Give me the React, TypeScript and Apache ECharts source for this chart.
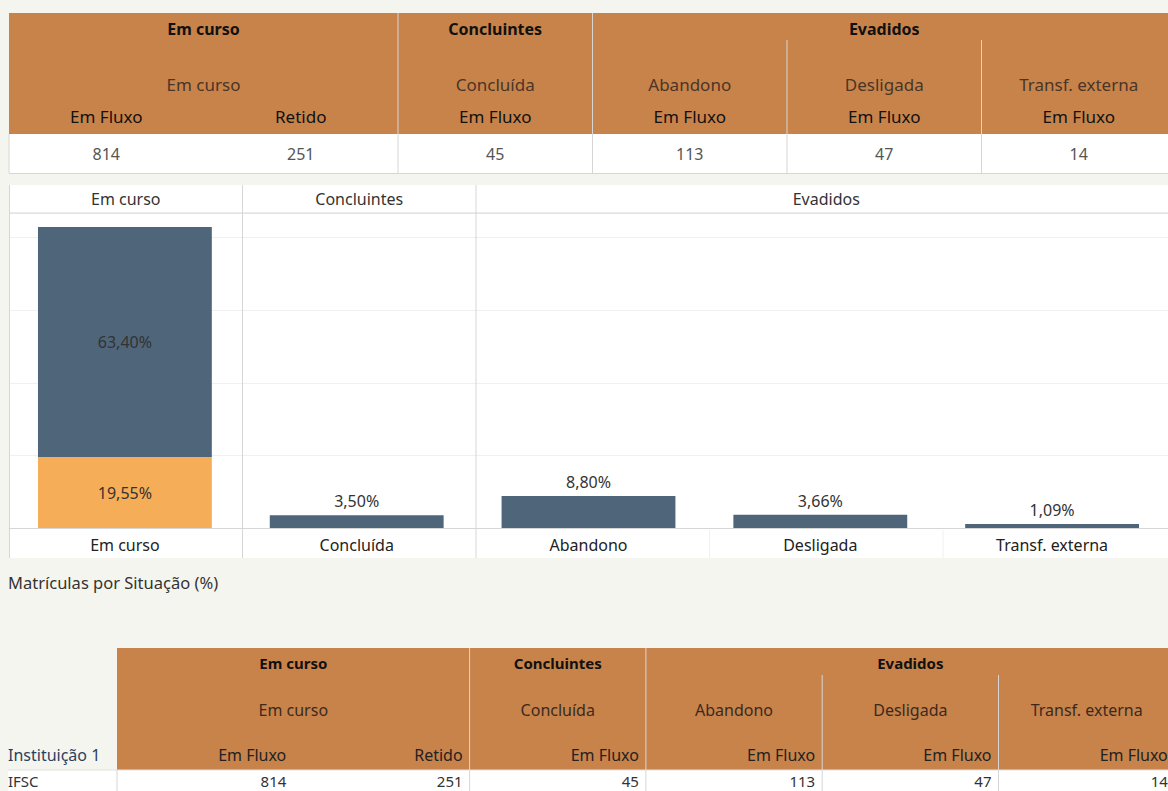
import React, { useEffect, useRef } from "react";
import * as echarts from "echarts";

// ---- data ----
const barGroups = ["Em curso", "Concluintes", "Evadidos"];
const barGroupSpan = [1, 1, 3];
const categories = ["Em curso", "Concluída", "Abandono", "Desligada", "Transf. externa"];
const emFluxoPct = [63.4, 3.5, 8.8, 3.66, 1.09];
const retidoPct: (number | null)[] = [19.55, null, null, null, null];

const tableGroups = ["Em curso", "Concluintes", "Evadidos"];
const tableGroupSpan = [2, 1, 3];
const tableSituacao = ["Em curso", "Concluída", "Abandono", "Desligada", "Transf. externa"];
const tableSituacaoSpan = [2, 1, 1, 1, 1];
const tableTipo = ["Em Fluxo", "Retido", "Em Fluxo", "Em Fluxo", "Em Fluxo", "Em Fluxo"];
const tableValues = [814, 251, 45, 113, 47, 14];
const rowLabel = "Instituição 1";
const rowName = "IFSC";
const caption = "Matrículas por Situação (%)";

const FONT = "Noto Sans";
const ORANGE = "#c8834b";
const BLUE = "#4f657a";
const YELLOW = "#f6ad58";
const GRID = "#d6d6d6";

const fmt = (v: number) => v.toFixed(2).replace(".", ",") + "%";

function buildGraphic() {
  const els: any[] = [];
  const text = (x: number, y: number, s: string, o: any = {}) =>
    els.push({
      type: "text",
      x,
      y,
      z: 5,
      style: {
        text: s,
        fontFamily: FONT,
        fontSize: o.size || 15,
        fontWeight: o.weight || "normal",
        fill: o.color || "#333",
        align: o.align || "center",
        verticalAlign: "middle",
      },
    });
  const line = (x1: number, y1: number, x2: number, y2: number, color = GRID, z = 6) =>
    els.push({ type: "line", z, shape: { x1, y1, x2, y2 }, style: { stroke: color, lineWidth: 1 } });
  const rect = (x: number, y: number, w: number, h: number, fill: string, z = 1) =>
    els.push({ type: "rect", z, shape: { x, y, width: w, height: h }, style: { fill } });

  // ---------- top table ----------
  const tX0 = 9, tW = 194.5;
  const tx = (i: number) => tX0 + i * tW;
  rect(9, 13, 1170, 121, ORANGE);
  rect(9, 134, 1170, 39, "#ffffff");
  line(9, 134, 9, 173);
  line(9, 173.5, 1176, 173.5);
  let c = 0;
  tableGroups.forEach((g, i) => {
    const span = tableGroupSpan[i];
    text((tx(c) + tx(c + span)) / 2, 29, g, { weight: "bold", color: "#111", size: 16 });
    c += span;
  });
  c = 0;
  tableSituacao.forEach((s, i) => {
    const span = tableSituacaoSpan[i];
    text((tx(c) + tx(c + span)) / 2, 84, s, { color: "#4a3526", size: 17 });
    c += span;
  });
  tableTipo.forEach((s, i) => {
    text((tx(i) + tx(i + 1)) / 2, 116, s, { color: "#111", size: 17 });
    text((tx(i) + tx(i + 1)) / 2, 154, String(tableValues[i]), { color: "#555", size: 16 });
  });
  // dividers
  line(tx(2), 13, tx(2), 173);
  line(tx(3), 13, tx(3), 173);
  line(tx(4), 40, tx(4), 173);
  line(tx(5), 40, tx(5), 173);

  // ---------- bar panel ----------
  const pL = 9, pT = 185, pB = 558, catW = 233.5;
  rect(pL, pT, 1170, pB - pT, "#ffffff", -10);
  line(pL, 213, 1176, 213);
  line(pL + 0.5, pT, pL + 0.5, pB);
  let k = 0;
  barGroups.forEach((g, i) => {
    const span = barGroupSpan[i];
    const x0 = pL + k * catW, x1 = pL + (k + span) * catW;
    text((x0 + x1) / 2, 199, g, { color: "#333", size: 16 });
    if (k > 0) line(x0, pT, x0, pB);
    k += span;
  });
  line(pL + 3 * catW, 530, pL + 3 * catW, pB, "#f0f0f0");
  line(pL + 4 * catW, 530, pL + 4 * catW, pB, "#f0f0f0");

  text(8, 582, caption, { align: "left", color: "#333", size: 16.5 });

  // ---------- bottom table ----------
  const bX0 = 117, bW = 176.3;
  const bx = (i: number) => bX0 + i * bW;
  rect(bX0, 648, 1070, 122, ORANGE);
  rect(8, 770, 1170, 30, "#ffffff");
  c = 0;
  tableGroups.forEach((g, i) => {
    const span = tableGroupSpan[i];
    text((bx(c) + bx(c + span)) / 2, 663, g, { weight: "bold", color: "#111", size: 15 });
    c += span;
  });
  c = 0;
  tableSituacao.forEach((s, i) => {
    const span = tableSituacaoSpan[i];
    text((bx(c) + bx(c + span)) / 2, 710, s, { color: "#3a2a1e", size: 16 });
    c += span;
  });
  tableTipo.forEach((s, i) => {
    text(bx(i + 1) - 7, 755, s, { align: "right", color: "#222", size: 16 });
    text(bx(i + 1) - 7, 780.5, String(tableValues[i]), { align: "right", color: "#333", size: 15 });
  });
  text(8, 755, rowLabel, { align: "left", color: "#2b3f5c", size: 16 });
  text(8, 780.5, rowName, { align: "left", color: "#333", size: 15 });
  line(bx(0), 770, bx(0), 791);
  line(bx(2), 648, bx(2), 791);
  line(bx(3), 648, bx(3), 791);
  line(bx(4), 675, bx(4), 791);
  line(bx(5), 675, bx(5), 791);
  line(8, 770, 1176, 770, "#e0e0e0");

  return els;
}

export default function App() {
  const ref = useRef<HTMLDivElement>(null);
  useEffect(() => {
    if (!ref.current) return;
    const chart = echarts.init(ref.current, undefined, { renderer: "svg" });
    const labelStyle = { fontFamily: FONT, fontSize: 16, color: "#333", formatter: (p: any) => fmt(p.value) };
    chart.setOption({
      animation: false,
      backgroundColor: "#f5f5ef",
      textStyle: { fontFamily: FONT },
      graphic: { elements: buildGraphic() },
      grid: { left: 9, top: 213, width: 1167.5, height: 315, containLabel: false },
      xAxis: {
        type: "category",
        data: categories,
        axisLine: { show: true, lineStyle: { color: GRID } },
        axisTick: { show: false },
        axisLabel: { color: "#222", fontSize: 16, fontFamily: FONT, margin: 9, interval: 0 },
        splitLine: { show: false },
      },
      yAxis: {
        type: "value",
        min: 0,
        max: 86.8,
        interval: 20,
        axisLabel: { show: false },
        axisLine: { show: false },
        axisTick: { show: false },
        splitLine: { show: true, lineStyle: { color: "#f0f0f0" } },
      },
      series: [
        {
          name: "Retido",
          type: "bar",
          stack: "a",
          barCategoryGap: "25%",
          data: retidoPct.map((v) => (v == null ? "-" : v)),
          itemStyle: { color: YELLOW },
          label: { show: true, position: "inside", ...labelStyle },
        },
        {
          name: "Em Fluxo",
          type: "bar",
          stack: "a",
          barCategoryGap: "25%",
          data: emFluxoPct.map((v, i) =>
            retidoPct[i] != null ? { value: v, label: { position: "inside" } } : v
          ),
          itemStyle: { color: BLUE },
          label: { show: true, position: "top", distance: 6, ...labelStyle },
        },
      ],
    });
    return () => chart.dispose();
  }, []);
  return (
    <div
      ref={ref}
      style={{ position: "fixed", left: 0, top: 0, width: 1168, height: 791 }}
    />
  );
}
